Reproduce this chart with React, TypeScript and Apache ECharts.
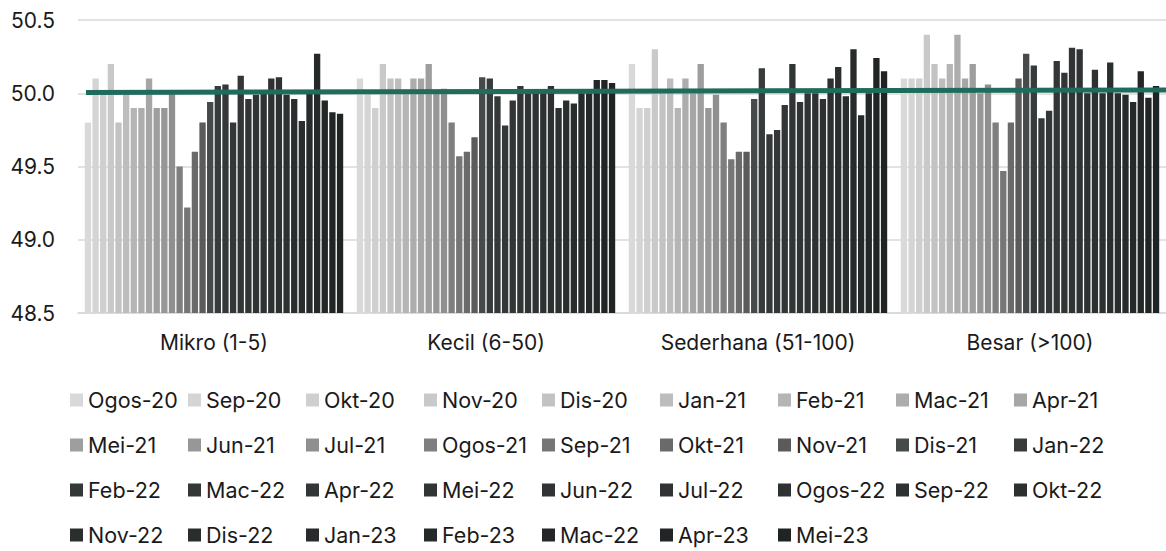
import React, { useEffect, useRef } from "react";
import * as echarts from "echarts";

const categories = ["Mikro (1-5)", "Kecil (6-50)", "Sederhana (51-100)", "Besar (>100)"];

// unique series keys (one per month) and the labels shown in the legend
const seriesKeys = [
  "Ogos-20", "Sep-20", "Okt-20", "Nov-20", "Dis-20", "Jan-21", "Feb-21", "Mac-21", "Apr-21",
  "Mei-21", "Jun-21", "Jul-21", "Ogos-21", "Sep-21", "Okt-21", "Nov-21", "Dis-21", "Jan-22",
  "Feb-22", "Mac-22", "Apr-22", "Mei-22", "Jun-22", "Jul-22", "Ogos-22", "Sep-22", "Okt-22",
  "Nov-22", "Dis-22", "Jan-23", "Feb-23", "Mac-23", "Apr-23", "Mei-23",
];
const legendLabels = [
  "Ogos-20", "Sep-20", "Okt-20", "Nov-20", "Dis-20", "Jan-21", "Feb-21", "Mac-21", "Apr-21",
  "Mei-21", "Jun-21", "Jul-21", "Ogos-21", "Sep-21", "Okt-21", "Nov-21", "Dis-21", "Jan-22",
  "Feb-22", "Mac-22", "Apr-22", "Mei-22", "Jun-22", "Jul-22", "Ogos-22", "Sep-22", "Okt-22",
  "Nov-22", "Dis-22", "Jan-23", "Feb-23", "Mac-22", "Apr-23", "Mei-23",
];

const mikro = [49.80, 50.10, 50.00, 50.20, 49.80, 50.00, 49.90, 49.90, 50.10, 49.90, 49.90, 50.00, 49.50, 49.22, 49.60, 49.80, 49.94, 50.05, 50.06, 49.80, 50.12, 49.96, 49.99, 50.00, 50.10, 50.11, 49.99, 49.96, 49.81, 50.00, 50.27, 49.95, 49.87, 49.86];
const kecil = [50.10, 50.00, 49.90, 50.20, 50.10, 50.10, 50.00, 50.10, 50.10, 50.20, 50.00, 50.03, 49.80, 49.57, 49.60, 49.70, 50.11, 50.10, 49.98, 49.78, 49.95, 50.05, 50.00, 50.00, 50.00, 50.05, 49.90, 49.95, 49.93, 50.00, 50.00, 50.09, 50.09, 50.07];
const sederhana = [50.20, 49.90, 49.90, 50.30, 50.00, 50.10, 49.90, 50.10, 50.00, 50.20, 49.90, 49.99, 49.80, 49.55, 49.60, 49.60, 49.96, 50.17, 49.72, 49.75, 49.92, 50.20, 49.94, 50.00, 50.00, 49.96, 50.10, 50.18, 49.98, 50.30, 49.85, 50.00, 50.24, 50.15];
const besar = [50.10, 50.10, 50.10, 50.40, 50.20, 50.10, 50.20, 50.40, 50.10, 50.20, 50.00, 50.06, 49.80, 49.47, 49.80, 50.10, 50.27, 50.19, 49.83, 49.88, 50.22, 50.14, 50.31, 50.30, 50.00, 50.16, 50.00, 50.21, 50.00, 49.99, 49.94, 50.15, 49.97, 50.05];

// threshold line (start, end)
const refLine = [50.005, 50.023];
const refLineX = ["start", "end"];

const yTicks = { min: 48.5, max: 50.5, interval: 0.5 };

const colors = [
  "#d9d9d9", "#d4d4d4", "#cfcfcf", "#c9c9c9", "#c3c3c3", "#bdbdbd", "#b5b5b5", "#adadad", "#a6a6a6",
  "#9e9e9e", "#979797", "#8f8f8f", "#7f7f7f", "#767676", "#6a6a6a", "#5b5b5b", "#464a4a", "#373b3b",
  "#343838", "#333737", "#323636", "#313535", "#303434", "#2f3333", "#2e3232", "#2d3131", "#2c3030",
  "#2a2e2e", "#292d2d", "#272b2b", "#252929", "#232727", "#212525", "#1f2323",
];

const FONT = "Inter";
const TEXT = "#1a1a1a";

export default function App() {
  const ref = useRef<HTMLDivElement>(null);

  useEffect(() => {
    if (!ref.current) return;
    const chart = echarts.init(ref.current, undefined, { renderer: "svg" });

    const barSeries = seriesKeys.map((key, i) => ({
      name: key,
      type: "bar",
      xAxisIndex: 0,
      yAxisIndex: 0,
      data: [mikro[i], kecil[i], sederhana[i], besar[i]],
      itemStyle: { color: colors[i] },
      barGap: "21%",
      barCategoryGap: "5%",
      clip: true,
    }));

    const option = {
      animation: false,
      textStyle: { fontFamily: FONT },
      grid: [
        { left: 78, right: 0, top: 20, height: 293, containLabel: false },
        { left: 86, right: 0, top: 20, height: 293, containLabel: false },
      ],
      xAxis: [
        {
          type: "category",
          gridIndex: 0,
          data: categories,
          axisLine: { show: true, lineStyle: { color: "#d9d9d9", width: 1.5 } },
          axisTick: { show: false },
          axisLabel: { fontSize: 21, color: TEXT, margin: 19, fontFamily: FONT },
        },
        {
          type: "category",
          gridIndex: 1,
          data: refLineX,
          boundaryGap: false,
          show: false,
        },
      ],
      yAxis: [
        {
          type: "value",
          gridIndex: 0,
          min: yTicks.min,
          max: yTicks.max,
          interval: yTicks.interval,
          axisLine: { show: false },
          axisTick: { show: false },
          splitLine: { show: true, lineStyle: { color: "#d9d9d9", width: 1.5 } },
          axisLabel: {
            fontSize: 21,
            color: TEXT,
            margin: 23,
            fontFamily: FONT,
            formatter: (v: number) => v.toFixed(1),
          },
        },
        {
          type: "value",
          gridIndex: 1,
          min: yTicks.min,
          max: yTicks.max,
          interval: yTicks.interval,
          show: false,
          splitLine: { show: false },
        },
      ],
      legend: {
        left: 65,
        top: 375,
        width: 1085,
        orient: "horizontal",
        icon: "rect",
        itemWidth: 13,
        itemHeight: 13,
        itemGap: 5,
        data: seriesKeys,
        formatter: (n: string) => legendLabels[seriesKeys.indexOf(n)],
        textStyle: {
          fontSize: 21.5,
          color: TEXT,
          fontFamily: FONT,
          width: 95,
          lineHeight: 40,
        },
      },
      series: [
        ...barSeries,
        {
          name: "threshold",
          type: "line",
          xAxisIndex: 1,
          yAxisIndex: 1,
          data: refLine,
          symbol: "none",
          lineStyle: { color: "#1f6b5c", width: 5 },
          z: 10,
        },
      ],
    };

    chart.setOption(option as any);
    return () => chart.dispose();
  }, []);

  return (
    <div
      ref={ref}
      style={{ position: "absolute", left: 0, top: 0, width: 1166, height: 551, background: "#fff" }}
    />
  );
}
